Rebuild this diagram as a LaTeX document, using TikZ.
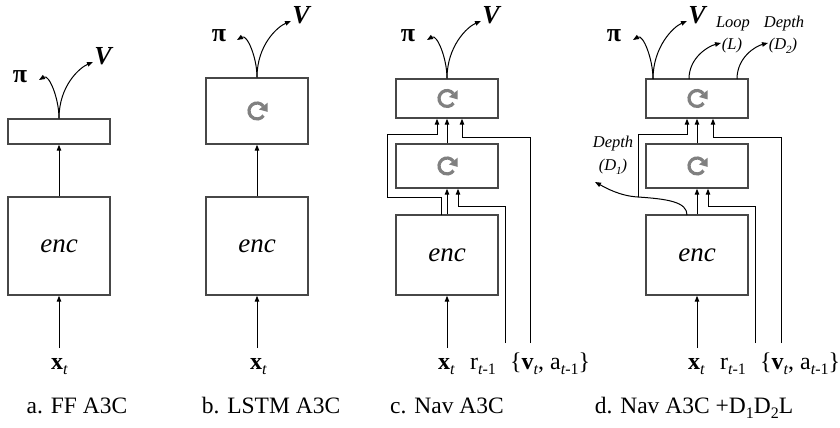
\documentclass[tikz,border=0pt]{standalone}
\usepackage{fontspec}
\setmainfont{Liberation Serif}
\usetikzlibrary{arrows.meta}
\newcommand\lowsub[1]{\raisebox{-5pt}{\fontsize{16}{16}\selectfont #1}}
\newcommand\smallsub[1]{\raisebox{-3.5pt}{\fontsize{11}{11}\selectfont #1}}
\begin{document}
\begin{tikzpicture}[x=1pt,y=-1pt,
  netbox/.style={draw=black!72, line width=1.4pt, minimum width=102pt, inner sep=0pt},
  wire/.style={line width=1pt, black},
  arr/.style={wire, -{Triangle[length=6pt,width=4.5pt]}},
  recicon/.style={draw=black!50, line width=3.2pt},
  recfill/.style={fill=black!50},
  lbl/.style={font=\fontsize{24}{26}\selectfont, inner sep=0pt},
  encfont/.style={font=\fontsize{27}{30}\selectfont\itshape},
  outpi/.style={font=\fontsize{26}{28}\selectfont\bfseries, inner sep=0pt},
  outv/.style={font=\fontsize{26}{28}\selectfont\bfseries\itshape, inner sep=0pt},
  auxlbl/.style={font=\fontsize{16.5}{18}\selectfont\itshape, inner sep=0pt},
  captext/.style={font=\fontsize{23.5}{26}\selectfont, anchor=base, inner sep=0pt}
]
\useasboundingbox (0,0) rectangle (840,428);
\newcommand\recur[1]{\begin{scope}[shift={(#1)}, x=1pt, y=1pt]
  \draw[recicon] (38:8) arc[start angle=38, end angle=325, radius=8];
  \fill[recfill] (38:13.5) -- (38:2.5) -- (10.6,-0.9) -- cycle;
\end{scope}}

% ---------- panel a ----------
\node[netbox, minimum height=25pt] (atop) at (59,131.5) {};
\node[netbox, minimum height=98pt, encfont] (aenc) at (59,246) {enc};
\coordinate (ain) at (59,348);
\draw[arr] (ain) -- (aenc.south);
\draw[arr] (aenc.north) -- (atop.south);
\coordinate (apit) at (39,80);
\coordinate (avt) at (93,62);
\draw[arr] (atop.north) .. controls +(0,-20) and +(10,-6) .. (apit);
\draw[arr] (atop.north) .. controls +(0,-32) and +(-14,6) .. (avt);
\node[outpi] (api) at (20,77) {π};
\node[outv] (av) at (103,56) {V};
\node[lbl, anchor=base west] (ax) at (51,369) {\textbf{x}\lowsub{\itshape t}};
\node[captext] (acap) at (77,413) {a. FF A3C};

% ---------- panel b ----------
\node[netbox, minimum height=66pt] (btop) at (257,111) {};
\recur{btop.center}
\node[netbox, minimum height=98pt, encfont] (benc) at (257,246) {enc};
\coordinate (bin) at (257,348);
\draw[arr] (bin) -- (benc.south);
\draw[arr] (benc.north) -- (btop.south);
\coordinate (bpit) at (237,40);
\coordinate (bvt) at (291,21);
\draw[arr] (btop.north) .. controls +(0,-20) and +(10,-6) .. (bpit);
\draw[arr] (btop.north) .. controls +(0,-32) and +(-14,6) .. (bvt);
\node[outpi] (bpi) at (219,36) {π};
\node[outv] (bv) at (301,15) {V};
\node[lbl, anchor=base west] (bx) at (250,369) {\textbf{x}\lowsub{\itshape t}};
\node[captext] (bcap) at (271,413) {b. LSTM A3C};

% ---------- panel c ----------
\node[netbox, minimum height=39pt] (ctop) at (447,98.5) {};
\recur{ctop.center}
\node[netbox, minimum height=44pt] (cmid) at (447,166) {};
\recur{cmid.center}
\node[netbox, minimum height=80pt, encfont] (cenc) at (447,255) {enc};
\coordinate (cin) at (447,348);
\draw[arr] (cin) -- (cenc.south);
\draw[arr] (cenc.north) -- (cmid.south);
\draw[arr] (cmid.north) -- (ctop.south);
% skip wire from encoder to top LSTM
\coordinate (cs0) at (441,215);
\coordinate (cs1) at (387,197);
\coordinate (cs2) at (437,134);
\draw[arr] (cs0) |- (cs1) |- (cs2) -- (cs2|-ctop.south);
% reward wire
\coordinate (cr0) at (505,343);
\coordinate (cr1) at (458,206);
\draw[arr] (cr0) |- (cr1) -- (cr1|-cmid.south);
% velocity / action wire
\coordinate (cv0) at (530,343);
\coordinate (cv1) at (462,137);
\draw[arr] (cv0) |- (cv1) -- (cv1|-ctop.south);
\coordinate (cpit) at (427,40);
\coordinate (cvt) at (481,21);
\draw[arr] (ctop.north) .. controls +(0,-20) and +(10,-6) .. (cpit);
\draw[arr] (ctop.north) .. controls +(0,-32) and +(-14,6) .. (cvt);
\node[outpi] (cpi) at (408,36) {π};
\node[outv] (cv) at (491,15) {V};
\node[lbl, anchor=base west] (cx) at (438,369) {\textbf{x}\lowsub{\itshape t}};
\node[lbl, anchor=base west] (crl) at (470,369) {r\lowsub{{\itshape t}-1}};
\node[lbl, anchor=base west] (cvl) at (510,369) {\{\textbf{v}\lowsub{\itshape t}, a\lowsub{{\itshape t}-1}\}};
\node[captext] (ccap) at (447,413) {c. Nav A3C};

% ---------- panel d ----------
\node[netbox, minimum height=39pt] (dtop) at (697,98.5) {};
\recur{dtop.center}
\node[netbox, minimum height=44pt] (dmid) at (697,166) {};
\recur{dmid.center}
\node[netbox, minimum height=80pt, encfont] (denc) at (697,255) {enc};
\coordinate (din) at (697,348);
\draw[arr] (din) -- (denc.south);
\draw[arr] (denc.north) -- (dmid.south);
\draw[arr] (dmid.north) -- (dtop.south);
% depth D1 auxiliary output and skip wire
\coordinate (ds0) at (687,215);
\coordinate (dsj) at (638,197);
\coordinate (dd1t) at (595,182);
\draw[wire] (ds0) .. controls (687,202) and (668,199) .. (dsj);
\draw[arr] (dsj) .. controls (620,196) and (606,188) .. (dd1t);
\coordinate (ds2) at (687,134);
\draw[arr] (dsj) |- (ds2) -- (ds2|-dtop.south);
% reward wire
\coordinate (dr0) at (755,343);
\coordinate (dr1) at (708,206);
\draw[arr] (dr0) |- (dr1) -- (dr1|-dmid.south);
% velocity / action wire
\coordinate (dv0) at (781,343);
\coordinate (dv1) at (713,137);
\draw[arr] (dv0) |- (dv1) -- (dv1|-dtop.south);
% outputs
\coordinate (dout) at (653,79);
\coordinate (dpit) at (633,40);
\coordinate (dvt) at (687,21);
\draw[arr] (dout) .. controls +(0,-20) and +(10,-6) .. (dpit);
\draw[arr] (dout) .. controls +(0,-32) and +(-14,6) .. (dvt);
\node[outpi] (dpi) at (614,36) {π};
\node[outv] (dv) at (697,15) {V};
\coordinate (dlo) at (689,79);
\coordinate (dlt) at (721,43);
\draw[arr] (dlo) .. controls +(0,-22) and +(-12,3) .. (dlt);
\coordinate (ddo) at (737,79);
\coordinate (ddt) at (768,43);
\draw[arr] (ddo) .. controls +(0,-22) and +(-12,3) .. (ddt);
\node[auxlbl] (dloop) at (733,24) {Loop};
\node[auxlbl] (dll) at (732,46) {(L)};
\node[auxlbl] (ddep2) at (784,24) {Depth};
\node[auxlbl] (dd2) at (783,46) {(D\smallsub{2})};
\node[auxlbl] (ddep1) at (613,144) {Depth};
\node[auxlbl] (dd1) at (613,167) {(D\smallsub{1})};
\node[lbl, anchor=base west] (dx) at (688,369) {\textbf{x}\lowsub{\itshape t}};
\node[lbl, anchor=base west] (drl) at (720,369) {r\lowsub{{\itshape t}-1}};
\node[lbl, anchor=base west] (dvl) at (760,369) {\{\textbf{v}\lowsub{\itshape t}, a\lowsub{{\itshape t}-1}\}};
\node[captext] (dcap) at (694,413) {d. Nav A3C +D\lowsub{1}D\lowsub{2}L};
\end{tikzpicture}
\end{document}
